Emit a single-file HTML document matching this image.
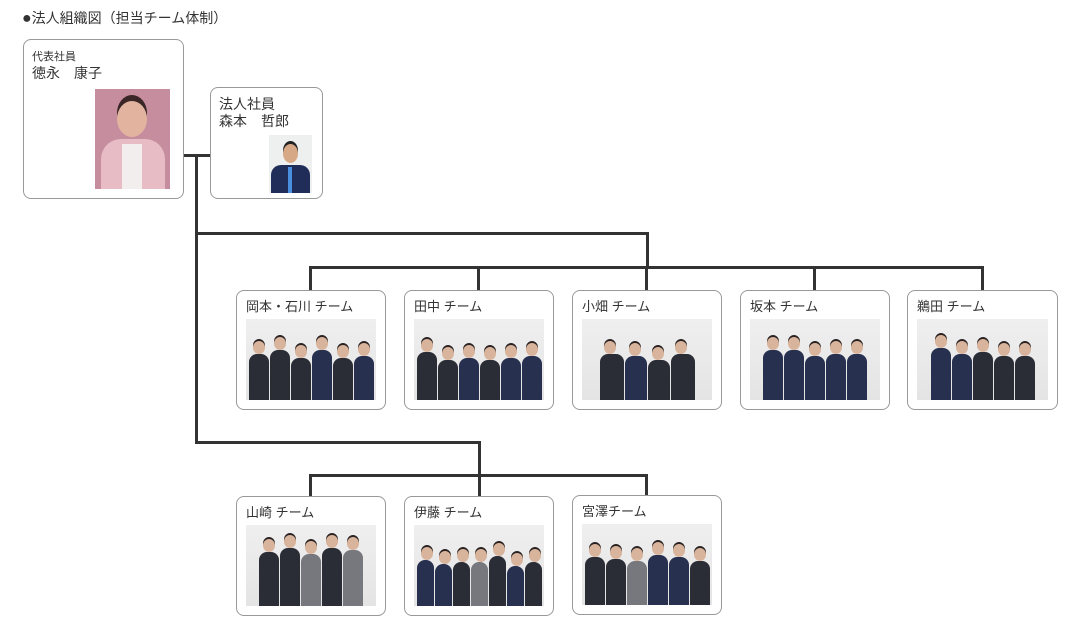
<!DOCTYPE html>
<html><head><meta charset="utf-8"><style>
body{margin:0;width:1080px;height:640px;background:#fff;position:relative;overflow:hidden;font-family:"Liberation Sans","Noto Sans CJK JP",sans-serif;color:#333}
.a{position:absolute}
.box{position:absolute;border:1px solid #999;border-radius:8px;background:#fff;box-sizing:border-box}
.ln{position:absolute;background:#333}
.t{position:absolute;font-size:13px;white-space:nowrap;line-height:16px}
.ph{position:absolute;background:linear-gradient(#efefef,#e4e4e4);display:flex;justify-content:center;align-items:flex-end;gap:1px;overflow:hidden}
.p{width:20px;height:46px;background:#2a2c36;border-radius:8px 8px 0 0;position:relative}
.p:before{content:"";position:absolute;left:4px;top:-13px;width:12px;height:13px;border-radius:50%;background:#d9b49c;box-shadow:0 -2px 0 #2a2222}
.p.n{background:#27304f}.p.g{background:#77787e}
</style></head><body>
<div class="t" style="left:22px;top:10px;font-size:14px"><span style="font-size:16px">●</span>法人組織図（担当チーム体制）</div>

<div class="ln" style="left:183px;top:154px;width:27px;height:3px"></div>
<div class="ln" style="left:195px;top:154px;width:3px;height:290px"></div>
<div class="ln" style="left:195px;top:232px;width:454px;height:3px"></div>
<div class="ln" style="left:646px;top:232px;width:3px;height:37px"></div>
<div class="ln" style="left:309px;top:266px;width:675px;height:3px"></div>
<div class="ln" style="left:309px;top:266px;width:3px;height:24px"></div>
<div class="ln" style="left:477px;top:266px;width:3px;height:24px"></div>
<div class="ln" style="left:645px;top:266px;width:3px;height:24px"></div>
<div class="ln" style="left:813px;top:266px;width:3px;height:24px"></div>
<div class="ln" style="left:981px;top:266px;width:3px;height:24px"></div>
<div class="ln" style="left:195px;top:441px;width:286px;height:3px"></div>
<div class="ln" style="left:478px;top:441px;width:3px;height:55px"></div>
<div class="ln" style="left:309px;top:474px;width:339px;height:3px"></div>
<div class="ln" style="left:309px;top:474px;width:3px;height:22px"></div>
<div class="ln" style="left:645px;top:474px;width:3px;height:22px"></div>

<div class="box" style="left:23px;top:39px;width:161px;height:160px"></div>
<div class="t" style="left:32px;top:49px;font-size:11px">代表社員</div>
<div class="t" style="left:32px;top:65px;font-size:14px">徳永　康子</div>
<div class="a" style="left:95px;top:89px;width:75px;height:100px;background:#c58d9e;overflow:hidden">
<div class="a" style="left:22px;top:12px;width:30px;height:36px;border-radius:50%;background:#e2b49f;box-shadow:0 -6px 0 #3a2626"></div>
<div class="a" style="left:6px;top:50px;width:64px;height:60px;border-radius:20px 20px 0 0;background:#e8bcc4"></div>
<div class="a" style="left:27px;top:55px;width:20px;height:45px;background:#f2eeee"></div></div>

<div class="box" style="left:210px;top:87px;width:113px;height:112px"></div>
<div class="t" style="left:219px;top:96px;font-size:14px">法人社員</div>
<div class="t" style="left:219px;top:113px;font-size:14px">森本　哲郎</div>
<div class="a" style="left:269px;top:135px;width:43px;height:58px;background:#eef0f0;overflow:hidden">
<div class="a" style="left:14px;top:9px;width:15px;height:19px;border-radius:50%;background:#d6a886;box-shadow:0 -3px 0 #222"></div>
<div class="a" style="left:2px;top:30px;width:39px;height:30px;border-radius:10px 10px 0 0;background:#1f2d58"></div>
<div class="a" style="left:19px;top:32px;width:4px;height:26px;background:#4a8ee0"></div></div>

<div class="box" style="left:236px;top:290px;width:150px;height:120px"></div>
<div class="t" style="left:246px;top:299px">岡本・石川 チーム</div>
<div class="ph" style="left:246px;top:319px;width:130px;height:81px"><div class="p" style="height:46px"></div><div class="p" style="height:50px"></div><div class="p" style="height:42px"></div><div class="p n" style="height:50px"></div><div class="p" style="height:42px"></div><div class="p n" style="height:44px"></div></div>

<div class="box" style="left:404px;top:290px;width:150px;height:120px"></div>
<div class="t" style="left:414px;top:299px">田中 チーム</div>
<div class="ph" style="left:414px;top:319px;width:130px;height:81px"><div class="p" style="height:48px"></div><div class="p" style="height:40px"></div><div class="p n" style="height:42px"></div><div class="p" style="height:40px"></div><div class="p n" style="height:42px"></div><div class="p n" style="height:44px"></div></div>

<div class="box" style="left:572px;top:290px;width:150px;height:120px"></div>
<div class="t" style="left:582px;top:299px">小畑 チーム</div>
<div class="ph" style="left:582px;top:319px;width:130px;height:81px"><div class="p" style="width:24px;height:46px"></div><div class="p n" style="width:22px;height:44px"></div><div class="p" style="width:22px;height:40px"></div><div class="p" style="width:24px;height:46px"></div></div>

<div class="box" style="left:740px;top:290px;width:150px;height:120px"></div>
<div class="t" style="left:750px;top:299px">坂本 チーム</div>
<div class="ph" style="left:750px;top:319px;width:130px;height:81px"><div class="p n" style="height:50px"></div><div class="p n" style="height:50px"></div><div class="p n" style="height:44px"></div><div class="p n" style="height:46px"></div><div class="p n" style="height:46px"></div></div>

<div class="box" style="left:907px;top:290px;width:151px;height:120px"></div>
<div class="t" style="left:917px;top:299px">鵜田 チーム</div>
<div class="ph" style="left:917px;top:319px;width:131px;height:81px"><div class="p n" style="height:52px"></div><div class="p n" style="height:46px"></div><div class="p" style="height:48px"></div><div class="p" style="height:44px"></div><div class="p" style="height:44px"></div></div>

<div class="box" style="left:236px;top:496px;width:150px;height:120px"></div>
<div class="t" style="left:246px;top:505px">山崎 チーム</div>
<div class="ph" style="left:246px;top:525px;width:130px;height:81px"><div class="p" style="height:54px"></div><div class="p" style="height:58px"></div><div class="p g" style="height:52px"></div><div class="p" style="height:58px"></div><div class="p g" style="height:56px"></div></div>

<div class="box" style="left:404px;top:496px;width:150px;height:120px"></div>
<div class="t" style="left:414px;top:505px">伊藤 チーム</div>
<div class="ph" style="left:414px;top:525px;width:130px;height:81px"><div class="p n" style="width:17px;height:46px"></div><div class="p n" style="width:17px;height:42px"></div><div class="p" style="width:17px;height:44px"></div><div class="p g" style="width:17px;height:44px"></div><div class="p" style="width:17px;height:50px"></div><div class="p n" style="width:17px;height:40px"></div><div class="p" style="width:17px;height:44px"></div></div>

<div class="box" style="left:572px;top:495px;width:150px;height:120px"></div>
<div class="t" style="left:582px;top:504px">宮澤チーム</div>
<div class="ph" style="left:582px;top:524px;width:130px;height:81px"><div class="p" style="height:48px"></div><div class="p" style="height:46px"></div><div class="p g" style="height:44px"></div><div class="p n" style="height:50px"></div><div class="p n" style="height:48px"></div><div class="p" style="height:44px"></div></div>
</body></html>
